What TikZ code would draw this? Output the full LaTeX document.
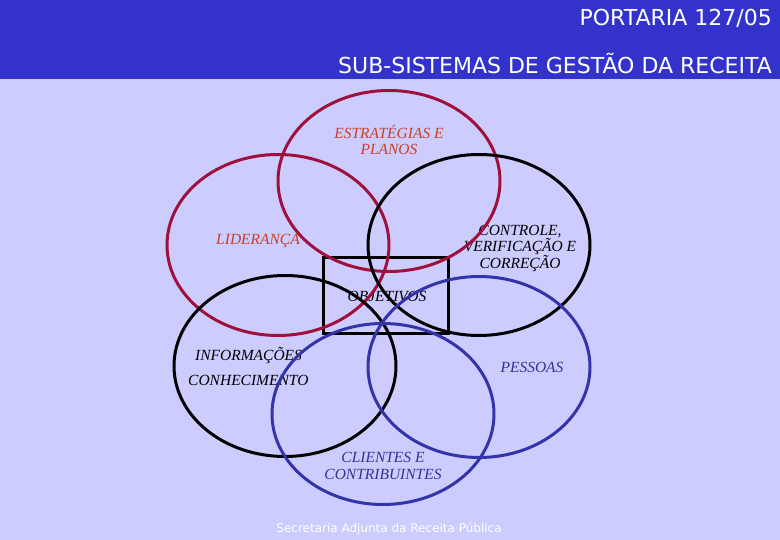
\documentclass[tikz,border=0pt]{standalone}
\usepackage{fontspec}
\setmainfont{Liberation Serif}
\newfontfamily\headfont{DejaVu Sans}
\usetikzlibrary{shapes.geometric,positioning}

\definecolor{bandblue}{RGB}{51,51,204}
\definecolor{lavender}{RGB}{204,204,255}
\definecolor{crimson}{RGB}{160,16,60}
\definecolor{brick}{RGB}{200,64,40}
\definecolor{ringblue}{RGB}{51,51,170}
\definecolor{textblue}{RGB}{51,51,153}

\begin{document}
\begin{tikzpicture}[
    x=1pt, y=-1pt,
    ring/.style={ellipse, draw, line width=3pt, inner sep=0pt, minimum width=222pt, minimum height=181pt},
    label text/.style={font=\fontsize{15.5}{16.5}\itshape\selectfont, align=center, inner sep=0pt},
    head text/.style={font=\fontsize{22}{24}\headfont\selectfont, white, anchor=east, inner sep=0pt}
]

\useasboundingbox (0,0) rectangle (780,540);
\fill[lavender] (0,0) rectangle (780,540);
\fill[bandblue] (0,0) rectangle (780,79);

\node[head text] (portaria) at (772,18) {PORTARIA 127/05};
\node[head text] (subsistemas) at (772,64) {SUB-SISTEMAS DE GESTÃO DA RECEITA};

% labels first, the rings go over them
\node[label text, brick] (t estrategias) at (389,140) {ESTRATÉGIAS E\\PLANOS};
\node[label text, brick] (t lideranca) at (258,241) {LIDERANÇA};
\node[label text, black] (t controle) at (520,248) {CONTROLE,\\VERIFICAÇÃO E\\CORREÇÃO};
\node[label text, black] (t objetivos) at (387,296) {OBJETIVOS};
\node[label text, black, anchor=west] (t informacoes) at (195,356) {INFORMAÇÕES};
\node[label text, black, anchor=west] (t conhecimento) at (188,380) {CONHECIMENTO};
\node[label text, textblue] (t pessoas) at (532,367) {PESSOAS};
\node[label text, textblue] (t clientes) at (383,466) {CLIENTES E\\CONTRIBUINTES};

\node[draw, line width=3pt, minimum width=125pt, minimum height=76pt, inner sep=0pt] (objetivos) at (385.5,296) {};

\node[ring, crimson] (estrategias) at (389,181) {};
\node[ring, crimson] (lideranca) at (278,245) {};
\node[ring, black] (controle) at (479,245) {};
\node[ring, black] (informacoes) at (285,366) {};
\node[ring, ringblue] (pessoas) at (479,367) {};
\node[ring, ringblue] (clientes) at (383,414) {};

\node[font=\fontsize{12}{14}\headfont\selectfont, white, inner sep=0pt] (rodape) at (389,529) {Secretaria Adjunta da Receita Pública};

\end{tikzpicture}
\end{document}
